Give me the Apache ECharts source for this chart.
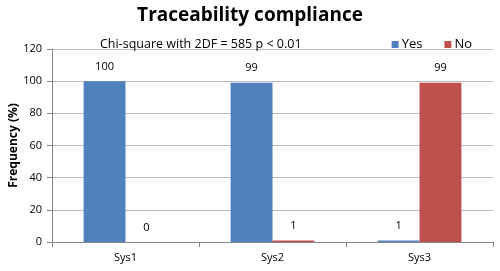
<!DOCTYPE html>
<html><head><meta charset="utf-8">
<script src="https://cdn.jsdelivr.net/npm/echarts@6/dist/echarts.min.js"></script>
<style>html,body{margin:0;padding:0;background:#fff}#c{width:500px;height:271px}</style>
</head><body><div id="c"></div>
<script>
var categories = ['Sys1', 'Sys2', 'Sys3'];
var yesValues = [100, 99, 1];
var noValues = [0, 1, 99];
var seriesNames = ['Yes', 'No'];
var yTicks = [0, 20, 40, 60, 80, 100, 120];

var font = 'Open Sans';
var chart = echarts.init(document.getElementById('c'));
chart.setOption({
  animation: false,
  title: [{
    text: 'Traceability compliance',
    left: 'center', top: 1,
    textStyle: {fontFamily: font, fontWeight: 'bold', fontSize: 19, color: '#000'}
  }, {
    text: 'Chi-square with 2DF = 585 p < 0.01',
    left: 95, top: 33,
    textStyle: {fontFamily: font, fontWeight: 'normal', fontSize: 12.5, color: '#000'}
  }],
  legend: {
    data: seriesNames,
    right: 23, top: 33,
    itemWidth: 7, itemHeight: 7, itemGap: 22,
    icon: 'rect',
    textStyle: {fontFamily: font, fontSize: 13, color: '#000', padding: [0, 0, 0, -2]}
  },
  grid: {left: 52, right: 7, top: 49, bottom: 29, containLabel: false, outerBoundsMode: 'none'},
  xAxis: {
    type: 'category', data: categories,
    axisLine: {lineStyle: {color: '#868686'}},
    axisTick: {show: true, alignWithLabel: false, length: 5, lineStyle: {color: '#868686'}},
    axisLabel: {fontFamily: font, fontSize: 11, color: '#000', margin: 10}
  },
  yAxis: {
    type: 'value', min: 0, max: 120, interval: 20,
    name: 'Frequency (%)', nameLocation: 'middle', nameGap: 32, nameMoveOverlap: false,
    nameTextStyle: {fontFamily: font, fontWeight: 'bold', fontSize: 12, color: '#000'},
    axisLine: {show: true, lineStyle: {color: '#868686'}},
    axisTick: {show: true, length: 5, lineStyle: {color: '#868686'}},
    splitLine: {lineStyle: {color: '#b9b9b9'}},
    axisLabel: {fontFamily: font, fontSize: 11, color: '#000', margin: 10,
      formatter: function (v) { return yTicks.indexOf(v) >= 0 ? String(v) : ''; }}
  },
  series: [{
    name: seriesNames[0], type: 'bar', data: yesValues,
    barGap: '0%', barCategoryGap: '43%',
    itemStyle: {color: '#4F81BD'},
    label: {show: true, position: 'top', distance: 9, fontFamily: font, fontSize: 11, color: '#000'}
  }, {
    name: seriesNames[1], type: 'bar', data: noValues,
    itemStyle: {color: '#C0504D'},
    label: {show: true, position: 'top', distance: 9, fontFamily: font, fontSize: 11, color: '#000'}
  }]
});
</script></body></html>
